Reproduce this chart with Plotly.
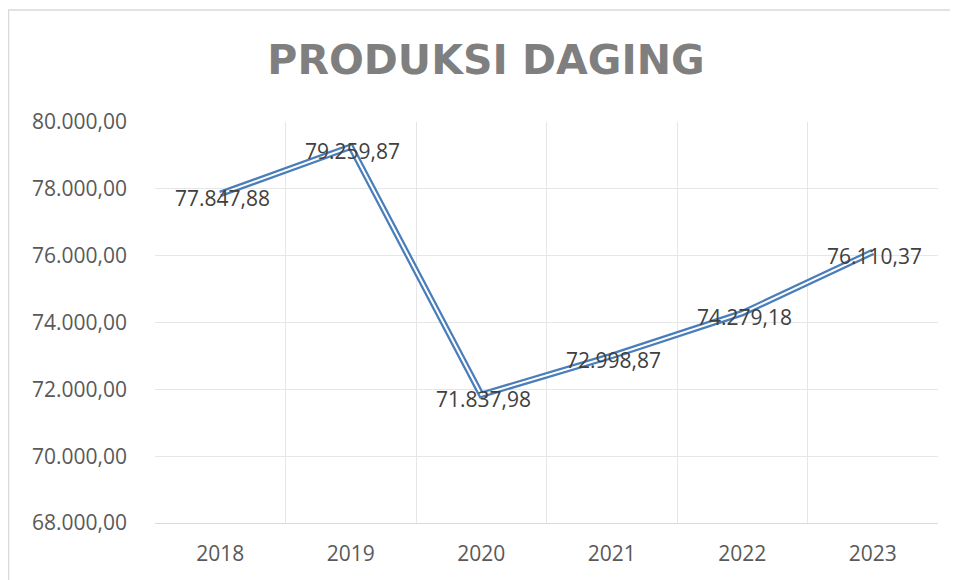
import plotly.graph_objects as go

years = ["2018", "2019", "2020", "2021", "2022", "2023"]
produksi = [77847.88, 79259.87, 71837.98, 72998.87, 74279.18, 76110.37]
y_ticks = [68000, 70000, 72000, 74000, 76000, 78000, 80000]

FONT = "Open Sans"


def fmt_id(v):
    return f"{v:,.2f}".replace(",", "X").replace(".", ",").replace("X", ".")


fig = go.Figure()
fig.add_trace(go.Scatter(x=years, y=produksi, mode="lines",
                         line=dict(color="#4a7ebb", width=6.5), hoverinfo="skip", showlegend=False))
fig.add_trace(go.Scatter(x=years, y=produksi, mode="lines",
                         line=dict(color="#ffffff", width=2), hoverinfo="skip", showlegend=False))
for i, v in enumerate(produksi):
    # category index i on the category axis
    fig.add_annotation(x=i, y=v, text=fmt_id(v), showarrow=False, xanchor="center", yanchor="middle",
                       xshift=2, yshift=-4, font=dict(family=FONT, size=21, color="#404040"))

# page body has an 8px margin: figure coordinates = page coordinates - 8
OFF = 8
FW, FH = 958 - OFF, 580 - OFF
pl, pr, pt, pb = 155 - OFF, 938 - OFF, 122 - OFF, 523 - OFF
W, H = pr - pl, pb - pt
fig.add_shape(type="rect", xref="paper", yref="paper",
              x0=(0.5 - pl) / W, x1=(990 - pl) / W,
              y0=1 - (640 - pt) / H, y1=1 + (pt - 2) / H,
              line=dict(color="#d9d9d9", width=1.5), fillcolor="rgba(0,0,0,0)", layer="below")

fig.update_layout(
    width=FW, height=FH,
    margin=dict(l=pl, r=FW - pr, t=pt, b=FH - pb),
    paper_bgcolor="white", plot_bgcolor="white",
    separators=",.",
    title=dict(text="<b>PRODUKSI DAGING</b>", x=(486 - OFF) / FW, xanchor="center",
               y=1 - (60 - OFF) / FH, yanchor="middle",
               font=dict(family="DejaVu Sans", size=41, color="#7f7f7f")),
    xaxis=dict(type="category", tickson="boundaries", showgrid=True, gridcolor="#e6e6e6", gridwidth=1,
               showline=True, linecolor="#d9d9d9", linewidth=1, ticks="",
               tickfont=dict(family=FONT, size=21, color="#595959"), ticklabelstandoff=12,
               range=[-0.5, 5.5], zeroline=False),
    yaxis=dict(range=[68000, 80000], tickvals=y_ticks, tickformat=",.2f",
               showgrid=True, gridcolor="#e6e6e6", gridwidth=1, zeroline=False,
               tickfont=dict(family=FONT, size=21, color="#595959"), ticklabelstandoff=27),
)
fig.write_html("out.html")
